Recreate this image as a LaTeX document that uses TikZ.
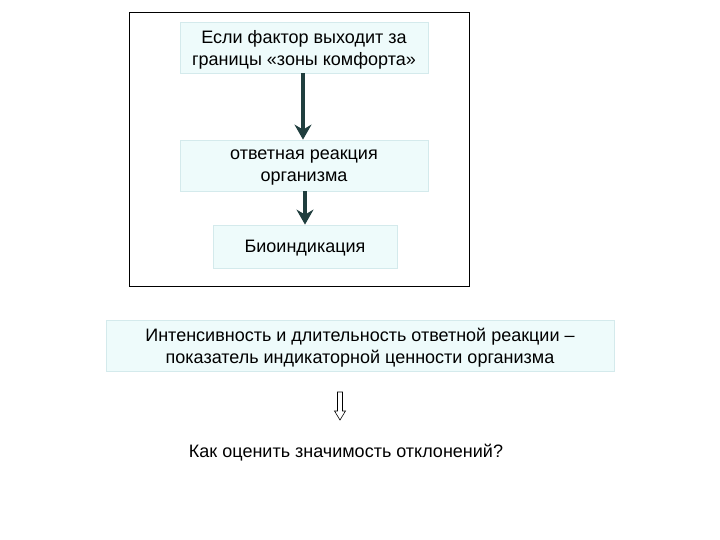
\documentclass[tikz,border=0pt]{standalone}
\usepackage{fontspec}
\setmainfont{Liberation Sans}
\usetikzlibrary{arrows.meta}
\definecolor{boxfill}{RGB}{238,251,251}
\definecolor{boxdraw}{RGB}{212,234,236}
\definecolor{arrowcol}{RGB}{32,62,62}
\tikzset{
  txtbox/.style={draw=boxdraw, fill=boxfill, line width=0.8pt, align=center, inner sep=0pt,
    font=\fontsize{18}{22}\selectfont, text depth=-1.5pt},
  flowarrow/.style={draw=arrowcol, line width=3.5pt,
    -{Stealth[width=17pt,length=15pt,inset=5pt]}}
}
\begin{document}
\begin{tikzpicture}[x=1pt,y=-1pt]
\useasboundingbox (0,0) rectangle (720,540);
\node[draw=black, line width=0.8pt, minimum width=340pt, minimum height=274pt, inner sep=0pt] (frame) at (299,149) {};
\node[txtbox, minimum width=248pt, minimum height=51pt] (b1) at (304,47.5) {Если фактор выходит за\\границы «зоны комфорта»};
\node[txtbox, minimum width=248pt, minimum height=51pt] (b2) at (304,165.5) {ответная реакция\\организма};
\node[txtbox, minimum width=184pt, minimum height=43pt] (b3) at (305,246.5) {Биоиндикация};
\node[txtbox, minimum width=508pt, minimum height=51pt] (b4) at (360,345.5) {Интенсивность и длительность ответной реакции –\\показатель индикаторной ценности организма};
\node[font=\fontsize{18}{22}\selectfont, inner sep=0pt] (q) at (346,453) {Как оценить значимость отклонений?};
\draw[flowarrow] (b1.south -| 303,0) -- (b2.north -| 303,0);
\draw[flowarrow] (b2.south -| 305,0) -- (b3.north -| 305,0);
\draw[black, line width=0.6pt, line join=miter]
  (337.5,392) -- (342.5,392) -- (342.5,411) -- (345.5,411) -- (340,420) -- (334.5,411) -- (337.5,411) -- cycle;
\end{tikzpicture}
\end{document}
